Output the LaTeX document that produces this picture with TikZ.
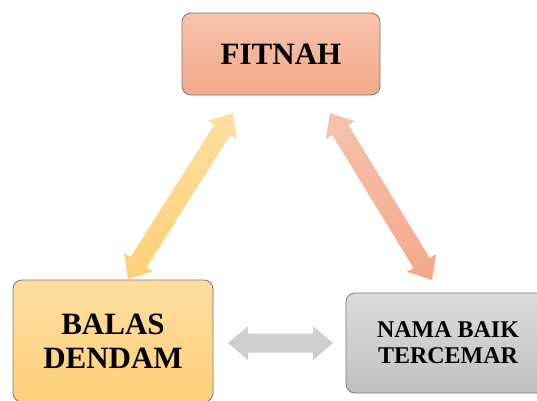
\documentclass[tikz,border=0pt]{standalone}
\usepackage{fontspec}
\setmainfont{Liberation Serif}
\usetikzlibrary{calc}
\definecolor{salmonT}{HTML}{F7C3AC}
\definecolor{salmonB}{HTML}{F4A88A}
\definecolor{goldT}{HTML}{FEDEA0}
\definecolor{goldB}{HTML}{FED077}
\definecolor{grayT}{HTML}{DCDCDC}
\definecolor{grayB}{HTML}{C0C0C0}
\definecolor{arrgray}{HTML}{CBCBCB}
\definecolor{boxline}{HTML}{7A7A7A}
\newcommand{\dblarrow}[3]{%
  \path coordinate (ha) at ($(#1)!20pt!(#2)$) coordinate (hb) at ($(#2)!20pt!(#1)$);
  \shade[#3] (#1) -- ($(ha)!17pt!90:(#2)$) -- ($(ha)!9.5pt!90:(#2)$) -- ($(hb)!9.5pt!-90:(#1)$)
    -- ($(hb)!17pt!-90:(#1)$) -- (#2) -- ($(hb)!17pt!90:(#1)$) -- ($(hb)!9.5pt!90:(#1)$)
    -- ($(ha)!9.5pt!-90:(#2)$) -- ($(ha)!17pt!-90:(#2)$) -- cycle;}
\tikzset{
  box/.style={draw=boxline, line width=0.8pt, rounded corners=9pt, align=center,
    font=\bfseries, inner sep=0pt},
}
\begin{document}
\begin{tikzpicture}[x=1pt,y=1pt]
\useasboundingbox (0,0) rectangle (537,400);
\node[box, top color=salmonT, bottom color=salmonB, minimum width=198pt, minimum height=82pt,
  font=\bfseries\fontsize{31}{34}\selectfont] (fit) at (281,346) {FITNAH};
\node[box, top color=goldT, bottom color=goldB, minimum width=200pt, minimum height=122pt,
  font=\bfseries\fontsize{31}{34}\selectfont] (bal) at (113,59) {BALAS\\DENDAM};
\node[box, top color=grayT, bottom color=grayB, minimum width=204pt, minimum height=100pt,
  font=\bfseries\fontsize{24}{26}\selectfont] (nam) at (448,57) {NAMA BAIK\\TERCEMAR};
\coordinate (l1) at (233,287);
\coordinate (l2) at (128,121);
\coordinate (r1) at (330,287);
\coordinate (r2) at (432,120);
\coordinate (h1) at (228,57);
\coordinate (h2) at (333,57);
\dblarrow{l1}{l2}{top color=goldT, bottom color=goldB}
\dblarrow{r1}{r2}{top color=salmonT, bottom color=salmonB}
\dblarrow{h1}{h2}{top color=arrgray!85, bottom color=arrgray}
\end{tikzpicture}
\end{document}
